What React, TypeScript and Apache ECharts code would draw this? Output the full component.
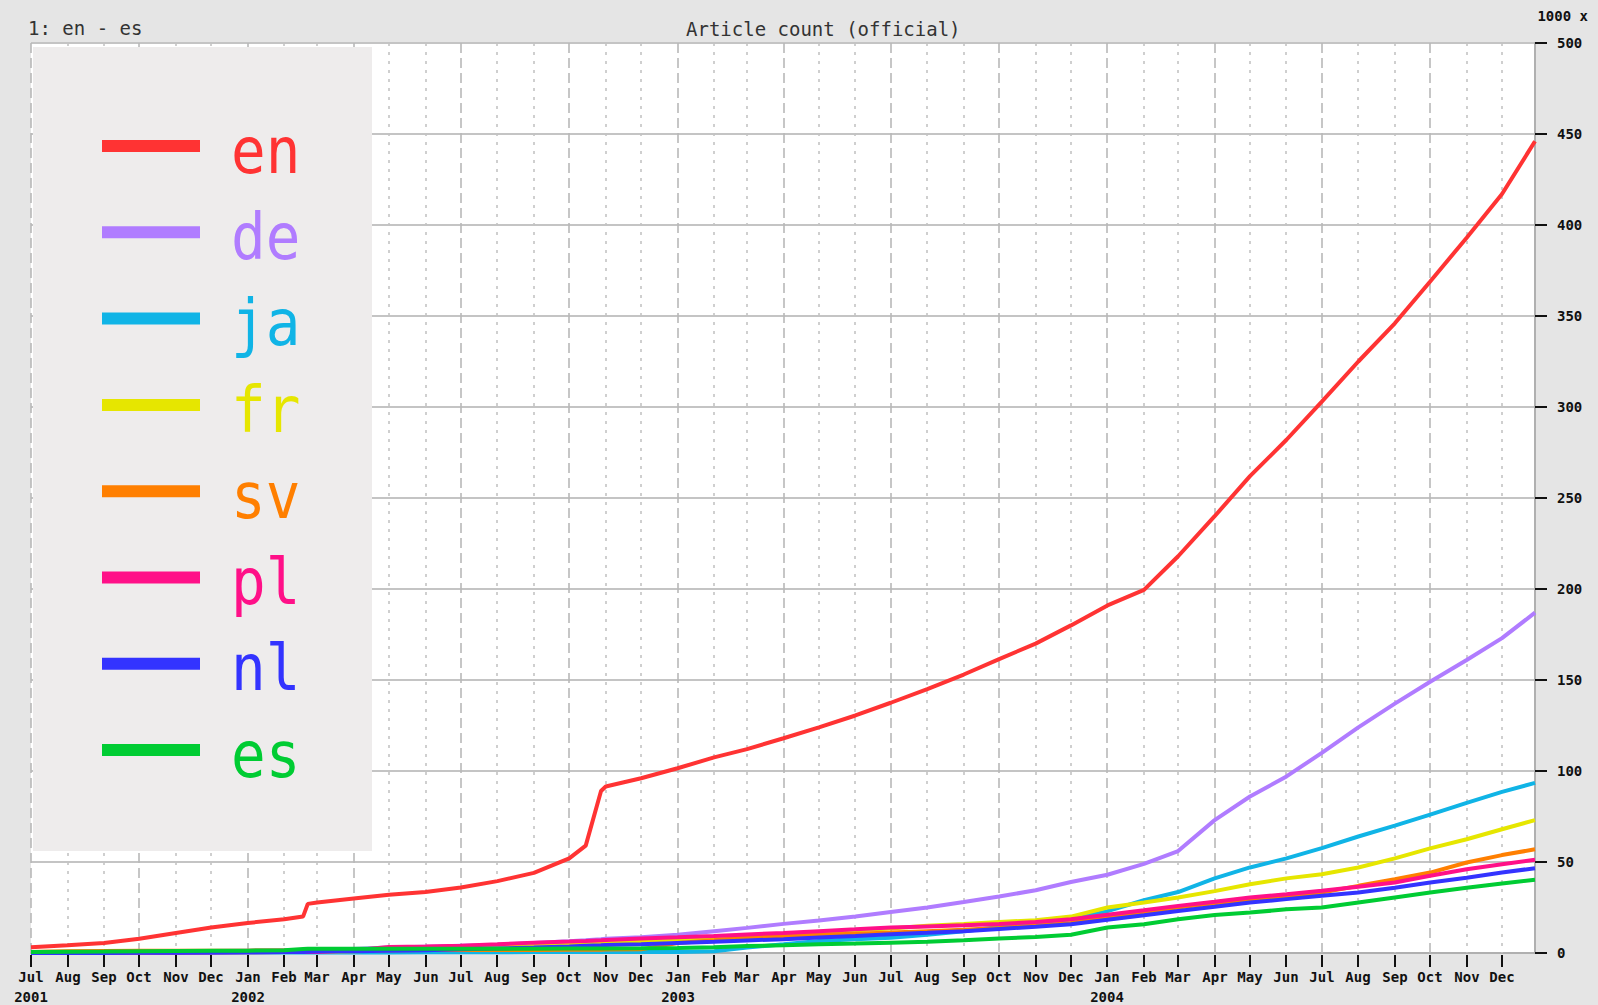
import React, { useEffect, useRef } from 'react';
import * as echarts from 'echarts';

// Sample dates (monthly, plus a few extra points around the sudden jumps)
const dates = [
  '2001-07-01', '2001-08-01', '2001-09-01', '2001-10-01', '2001-11-01', '2001-12-01',
  '2002-01-01', '2002-02-01', '2002-02-17', '2002-02-21', '2002-03-01', '2002-04-01',
  '2002-05-01', '2002-06-01', '2002-07-01', '2002-08-01', '2002-09-01', '2002-10-01',
  '2002-10-15', '2002-10-28', '2002-11-01', '2002-12-01',
  '2003-01-01', '2003-02-01', '2003-03-01', '2003-04-01', '2003-05-01', '2003-06-01',
  '2003-07-01', '2003-08-01', '2003-09-01', '2003-10-01', '2003-11-01', '2003-12-01',
  '2004-01-01', '2004-02-01', '2004-03-01', '2004-04-01', '2004-05-01', '2004-06-01',
  '2004-07-01', '2004-08-01', '2004-09-01', '2004-10-01', '2004-11-01', '2004-12-01',
  '2004-12-29',
];

// Article counts in thousands
const en = [3.2, 4.2, 5.5, 7.8, 11, 14, 16.5, 18.5, 20, 27, 27.8, 30, 32, 33.5, 36, 39.5, 44, 52, 59, 89, 91.5, 96,
  101.5, 107.5, 112, 118, 124, 130.5, 137.5, 145, 153, 161.5, 170, 180,
  191, 199.5, 218, 240, 262, 282, 303, 325, 346, 369, 393, 417, 446];
const de = [0.5, 0.6, 0.7, 0.8, 1, 1.1, 1.3, 1.5, 1.6, 1.7, 1.8, 2.2, 3, 3.5, 4, 4.5, 5.5, 6.5, 7, 7.5, 7.8, 8.7,
  10, 12, 13.8, 16, 17.8, 20, 22.5, 25, 28, 31, 34.5, 39,
  43, 49, 56, 73, 86, 97, 110, 124, 137, 149, 161, 173, 187];
const ja = [0.2, 0.2, 0.2, 0.2, 0.2, 0.2, 0.3, 0.3, 0.3, 0.3, 0.3, 0.3, 0.3, 0.4, 0.4, 0.4, 0.5, 0.5, 0.5, 0.5, 0.5, 0.5,
  0.6, 1, 3, 4.8, 6.6, 7.5, 8.4, 10, 12, 14.3, 16.7, 18.5,
  23, 29, 33.5, 41, 47, 52, 57.6, 64, 70, 76, 82.5, 88.5, 93.5];
const fr = [0.1, 0.1, 0.2, 0.3, 0.4, 0.5, 0.5, 0.6, 0.6, 0.6, 0.7, 1, 1.5, 2, 2.5, 3, 3.8, 4.5, 5, 5.3, 5.5, 6.5,
  7.5, 8.5, 9.5, 10.5, 11.5, 12.5, 13.5, 15, 16, 17, 18, 20,
  25, 27.7, 30.5, 34, 37.8, 41, 43.3, 47, 52, 57.5, 62.5, 68, 73];
const sv = [0.5, 1, 1.1, 1.2, 1.2, 1.3, 1.3, 1.4, 1.4, 1.4, 1.4, 1.5, 1.5, 1.6, 1.6, 1.7, 1.7, 1.8, 1.8, 1.8, 1.9, 2,
  5.5, 7, 8.5, 9.4, 10, 10.6, 11.2, 12, 12.8, 13.8, 15, 16.5,
  20, 22.5, 25, 27.3, 29.5, 31.3, 33.2, 36.9, 40.5, 44.2, 49.7, 53.8, 57];
const pl = [0, 0, 0, 0.1, 0.2, 0.3, 0.4, 0.5, 0.5, 0.5, 0.6, 1.5, 3.3, 3.6, 4, 4.8, 5.7, 6.3, 6.6, 7, 7.2, 8,
  8.6, 9.3, 10.2, 11, 12, 13, 14, 14.6, 15.2, 16, 17, 18.5,
  21, 23.5, 25.9, 28.2, 30.5, 32.3, 34.2, 36.4, 38.7, 42.4, 46, 48.8, 51.2];
const nl = [0, 0, 0, 0.1, 0.2, 0.3, 0.4, 0.5, 0.6, 0.7, 0.8, 0.9, 1.2, 1.5, 2, 2.5, 3, 3.6, 4, 4.2, 4.4, 4.8,
  5.5, 6.2, 6.9, 7.6, 8.5, 9.4, 10.3, 11.1, 12, 13.2, 14.4, 15.8,
  18.3, 20.7, 23.1, 25.4, 27.7, 29.6, 31.4, 33.2, 35.9, 38.7, 41.4, 44.2, 46.6];
const es = [0.6, 0.7, 0.8, 1, 1.1, 1.2, 1.3, 1.5, 2.2, 2.3, 2.3, 2.3, 2.4, 2.4, 2.4, 2.4, 2.4, 2.5, 2.5, 2.5, 2.5, 2.6,
  2.8, 3.2, 3.8, 4.2, 4.8, 5.2, 5.7, 6.2, 7, 8, 8.8, 10,
  14, 15.8, 18.5, 20.9, 22.2, 24, 25, 27.7, 30.5, 33.2, 35.9, 38.2, 40.2];

const seriesNames = ['en', 'de', 'ja', 'fr', 'sv', 'pl', 'nl', 'es'];
const seriesColors = ['#ff3333', '#b07cff', '#10b4e6', '#e6e600', '#ff7f00', '#ff1088', '#3333ff', '#00cc33'];

// Tick labels
const monthNames = ['Jan', 'Feb', 'Mar', 'Apr', 'May', 'Jun', 'Jul', 'Aug', 'Sep', 'Oct', 'Nov', 'Dec'];
const tickStart = { year: 2001, month: 6 };
const tickEnd = { year: 2004, month: 11 };
const yTicks = [0, 50, 100, 150, 200, 250, 300, 350, 400, 450, 500];

const FONT = '"DejaVu Sans Mono", "Liberation Mono", monospace';

export default function App() {
  const ref = useRef<HTMLDivElement>(null);

  useEffect(() => {
    const chart = echarts.init(ref.current!, null, { renderer: 'svg' });
    const allSeries = [en, de, ja, fr, sv, pl, nl, es];

    const ticks: { date: string; m: number; y: number; first: boolean }[] = [];
    let yy = tickStart.year, mm = tickStart.month;
    while (yy < tickEnd.year || (yy === tickEnd.year && mm <= tickEnd.month)) {
      ticks.push({
        date: `${yy}-${String(mm + 1).padStart(2, '0')}-01`,
        m: mm, y: yy, first: ticks.length === 0,
      });
      mm++;
      if (mm > 11) { mm = 0; yy++; }
    }

    const lineSeries = seriesNames.map((name, k) => ({
      name,
      type: 'line',
      data: dates.map((d, i) => [d, allSeries[k][i]]),
      showSymbol: false,
      symbol: 'none',
      silent: true,
      z: 3 + k,
      lineStyle: { color: seriesColors[k], width: 4 },
      itemStyle: { color: seriesColors[k] },
    }));

    const gridSeries = {
      type: 'custom',
      z: 1,
      silent: true,
      clip: false,
      encode: { x: 0, y: 1 },
      data: ticks.map((t, i) => [t.date, 0, i]),
      renderItem: (params: any, api: any) => {
        const i = api.value(2);
        const t = ticks[i];
        const x = Math.round(api.coord([api.value(0), 0])[0]);
        const cs = params.coordSys;
        const top = cs.y;
        const bottom = cs.y + cs.height;
        const quarterly = t.m % 3 === 0;
        const children: any[] = [
          {
            type: 'line',
            shape: { x1: x, y1: top, x2: x, y2: bottom },
            style: {
              stroke: quarterly ? '#b8b8b8' : '#c4c4c4',
              lineWidth: 1.6,
              lineDash: quarterly ? [10, 5] : [3, 6],
            },
          },
          {
            type: 'line',
            shape: { x1: x, y1: bottom + 2, x2: x, y2: bottom + 14 },
            style: { stroke: '#111', lineWidth: 2 },
          },
          {
            type: 'text',
            x,
            y: bottom + 24,
            style: {
              text: monthNames[t.m],
              align: 'center',
              verticalAlign: 'middle',
              font: `bold 14px ${FONT}`,
              fill: '#111',
            },
          },
        ];
        if (t.first || t.m === 0) {
          children.push({
            type: 'text',
            x,
            y: bottom + 44,
            style: {
              text: String(t.y),
              align: 'center',
              verticalAlign: 'middle',
              font: `bold 14px ${FONT}`,
              fill: '#111',
            },
          });
        }
        return { type: 'group', children };
      },
    };

    const legendTop = 146;
    const legendStep = 86.3;
    const legendGraphics: any[] = [
      {
        type: 'rect',
        z: 50,
        shape: { x: 33, y: 47, width: 339, height: 804 },
        style: { fill: '#eeecec' },
      },
    ];
    seriesNames.forEach((name, k) => {
      const cy = legendTop + k * legendStep;
      legendGraphics.push({
        type: 'line',
        z: 51,
        shape: { x1: 102, y1: cy, x2: 200, y2: cy },
        style: { stroke: seriesColors[k], lineWidth: 12 },
      });
      legendGraphics.push({
        type: 'text',
        z: 51,
        x: 231,
        y: cy + 4,
        scaleX: 0.9,
        style: {
          text: name,
          align: 'left',
          verticalAlign: 'middle',
          font: `64px ${FONT}`,
          fill: seriesColors[k],
        },
      });
    });

    chart.setOption({
      animation: false,
      backgroundColor: '#e5e5e5',
      title: {
        text: 'Article count (official)',
        left: 681,
        top: 14,
        textStyle: { fontFamily: FONT, fontSize: 19, fontWeight: 'normal', color: '#333' },
      },
      grid: {
        left: 31,
        right: 63,
        top: 43,
        bottom: 52,
        show: true,
        backgroundColor: '#ffffff',
        borderWidth: 0,
      },
      xAxis: {
        type: 'time',
        min: new Date(2001, 6, 1).getTime(),
        max: new Date(2004, 11, 29).getTime(),
        axisLine: { show: true, lineStyle: { color: '#b0b0b0', width: 2 } },
        axisTick: { show: false },
        axisLabel: { show: false },
        splitLine: { show: false },
      },
      yAxis: {
        type: 'value',
        position: 'right',
        min: yTicks[0],
        max: yTicks[yTicks.length - 1],
        interval: yTicks[1] - yTicks[0],
        axisLine: { show: true, lineStyle: { color: '#b0b0b0', width: 2 } },
        axisTick: { show: true, length: 12, lineStyle: { color: '#111', width: 2 } },
        axisLabel: { margin: 22, color: '#111', fontFamily: FONT, fontWeight: 'bold', fontSize: 14 },
        splitLine: { show: true, lineStyle: { color: '#c4c4c4', width: 2 } },
      },
      graphic: [
        {
          type: 'text',
          x: 28,
          y: 28,
          style: { text: '1: en - es', font: `19px ${FONT}`, fill: '#333', verticalAlign: 'middle' },
        },
        {
          type: 'text',
          x: 1588,
          y: 16,
          style: { text: '1000 x', font: `bold 14px ${FONT}`, fill: '#111', align: 'right', verticalAlign: 'middle' },
        },
        ...legendGraphics,
      ],
      series: [gridSeries, ...lineSeries],
    });

    return () => chart.dispose();
  }, []);

  return (
    <div
      ref={ref}
      style={{ position: 'fixed', left: 0, top: 0, width: 1598, height: 1005 }}
    />
  );
}
